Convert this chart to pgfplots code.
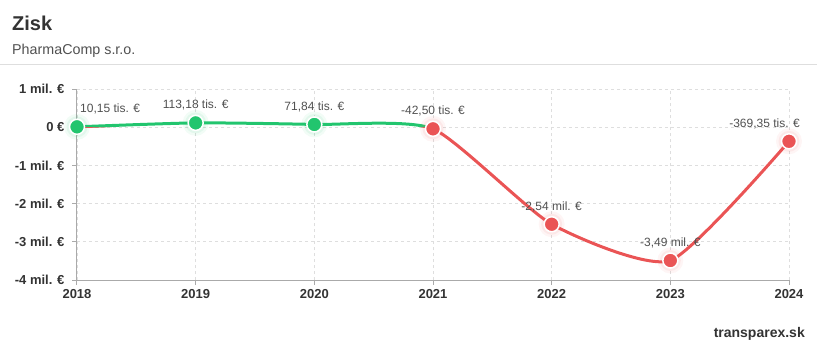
\documentclass[border=0pt]{standalone}
\usepackage{pgfplots}
\pgfplotsset{compat=1.18}
\usepackage{fontspec}
\setmainfont{Liberation Sans}
\definecolor{pgreen}{RGB}{34,197,110}
\definecolor{pred}{RGB}{234,84,85}
\definecolor{tdark}{RGB}{51,51,51}
\definecolor{tmid}{RGB}{80,80,80}
\definecolor{gridc}{RGB}{222,222,222}
\definecolor{axc}{RGB}{170,170,170}
\begin{document}
\begin{tikzpicture}
\useasboundingbox (0pt,0pt) rectangle (817pt,-354pt);
\node[anchor=base west, font=\bfseries\fontsize{20}{24}\selectfont, text=tdark, inner sep=0] at (12pt,-30pt) {Zisk};
\node[anchor=base west, font=\fontsize{14.3}{17}\selectfont, text=tmid, inner sep=0] at (12pt,-54pt) {PharmaComp s.r.o.};
\draw[gridc, line width=1pt] (0pt,-64.5pt) -- (817pt,-64.5pt);
\node[anchor=base east, font=\bfseries\fontsize{14}{17}\selectfont, text=tdark, inner sep=0] at (805pt,-337pt) {transparex.sk};
\begin{axis}[
  at={(77pt,-280pt)}, anchor=south west,
  width=712pt, height=191pt, scale only axis,
  xmin=2018, xmax=2024, ymin=-4, ymax=1,
  xtick={2018,2019,2020,2021,2022,2023,2024},
  xticklabels={2018,2019,2020,2021,2022,2023,2024},
  ytick={-4,-3,-2,-1,0,1},
  yticklabels={-4 mil. €,-3 mil. €,-2 mil. €,-1 mil. €,0 €,1 mil. €},
  axis x line*=bottom, axis y line*=left,
  axis line style={axc, line width=1pt, -},
  tick align=outside, major tick length=5pt,
  tick style={axc, line width=1pt},
  grid=major, major grid style={dashed, gridc, line width=0.8pt},
  ticklabel style={font=\bfseries\fontsize{13}{15}\selectfont, text=tdark},
  yticklabel style={xshift=-4pt},
  xticklabel style={yshift=-1pt},
  clip=false,
]
\begin{scope}
\clip (axis cs:2017.9,0) rectangle (axis cs:2024.1,1.2);
\addplot[pgreen, line width=3pt, smooth, tension=0.35] coordinates {
 (2018,0.01015) (2019,0.11318) (2020,0.07184) (2021,-0.0425) (2022,-2.54) (2023,-3.49) (2024,-0.36935)};
\end{scope}
\begin{scope}
\clip (axis cs:2017.9,0) rectangle (axis cs:2024.1,-4.2);
\addplot[pred, line width=3pt, smooth, tension=0.35] coordinates {
 (2018,0.01015) (2019,0.11318) (2020,0.07184) (2021,-0.0425) (2022,-2.54) (2023,-3.49) (2024,-0.36935)};
\end{scope}
% glow
\addplot[only marks, mark=*, mark size=13pt, color=pgreen, mark options={draw opacity=0, fill=pgreen, fill opacity=0.06}] coordinates {(2018,0.01015) (2019,0.11318) (2020,0.07184)};
\addplot[only marks, mark=*, mark size=10.5pt, color=pgreen, mark options={draw opacity=0, fill=pgreen, fill opacity=0.08}] coordinates {(2018,0.01015) (2019,0.11318) (2020,0.07184)};
\addplot[only marks, mark=*, mark size=13pt, color=pred, mark options={draw opacity=0, fill=pred, fill opacity=0.06}] coordinates {(2021,-0.0425) (2022,-2.54) (2023,-3.49) (2024,-0.36935)};
\addplot[only marks, mark=*, mark size=10.5pt, color=pred, mark options={draw opacity=0, fill=pred, fill opacity=0.08}] coordinates {(2021,-0.0425) (2022,-2.54) (2023,-3.49) (2024,-0.36935)};
% markers
\addplot[only marks, mark=*, mark size=7.5pt, mark options={draw=white, line width=1.5pt, fill=pgreen}] coordinates {(2018,0.01015) (2019,0.11318) (2020,0.07184)};
\addplot[only marks, mark=*, mark size=7.5pt, mark options={draw=white, line width=1.5pt, fill=pred}] coordinates {(2021,-0.0425) (2022,-2.54) (2023,-3.49) (2024,-0.36935)};
% labels
\addplot[only marks, mark=none, nodes near coords, point meta=explicit symbolic,
  every node near coord/.append style={anchor=base, yshift=14pt, font=\fontsize{12}{14}\selectfont, text=tmid, inner sep=0}]
  coordinates {(2019,0.11318) [{113,18 tis. €}] (2020,0.07184) [{71,84 tis. €}] (2021,-0.0425) [{-42,50 tis. €}] (2022,-2.54) [{-2,54 mil. €}] (2023,-3.49) [{-3,49 mil. €}]};
\addplot[only marks, mark=none, nodes near coords, point meta=explicit symbolic,
  every node near coord/.append style={anchor=base west, xshift=3pt, yshift=14pt, font=\fontsize{12}{14}\selectfont, text=tmid, inner sep=0}]
  coordinates {(2018,0.01015) [{10,15 tis. €}]};
\addplot[only marks, mark=none, nodes near coords, point meta=explicit symbolic,
  every node near coord/.append style={anchor=base east, xshift=11pt, yshift=14pt, font=\fontsize{12}{14}\selectfont, text=tmid, inner sep=0}]
  coordinates {(2024,-0.36935) [{-369,35 tis. €}]};
\end{axis}
\end{tikzpicture}
\end{document}
